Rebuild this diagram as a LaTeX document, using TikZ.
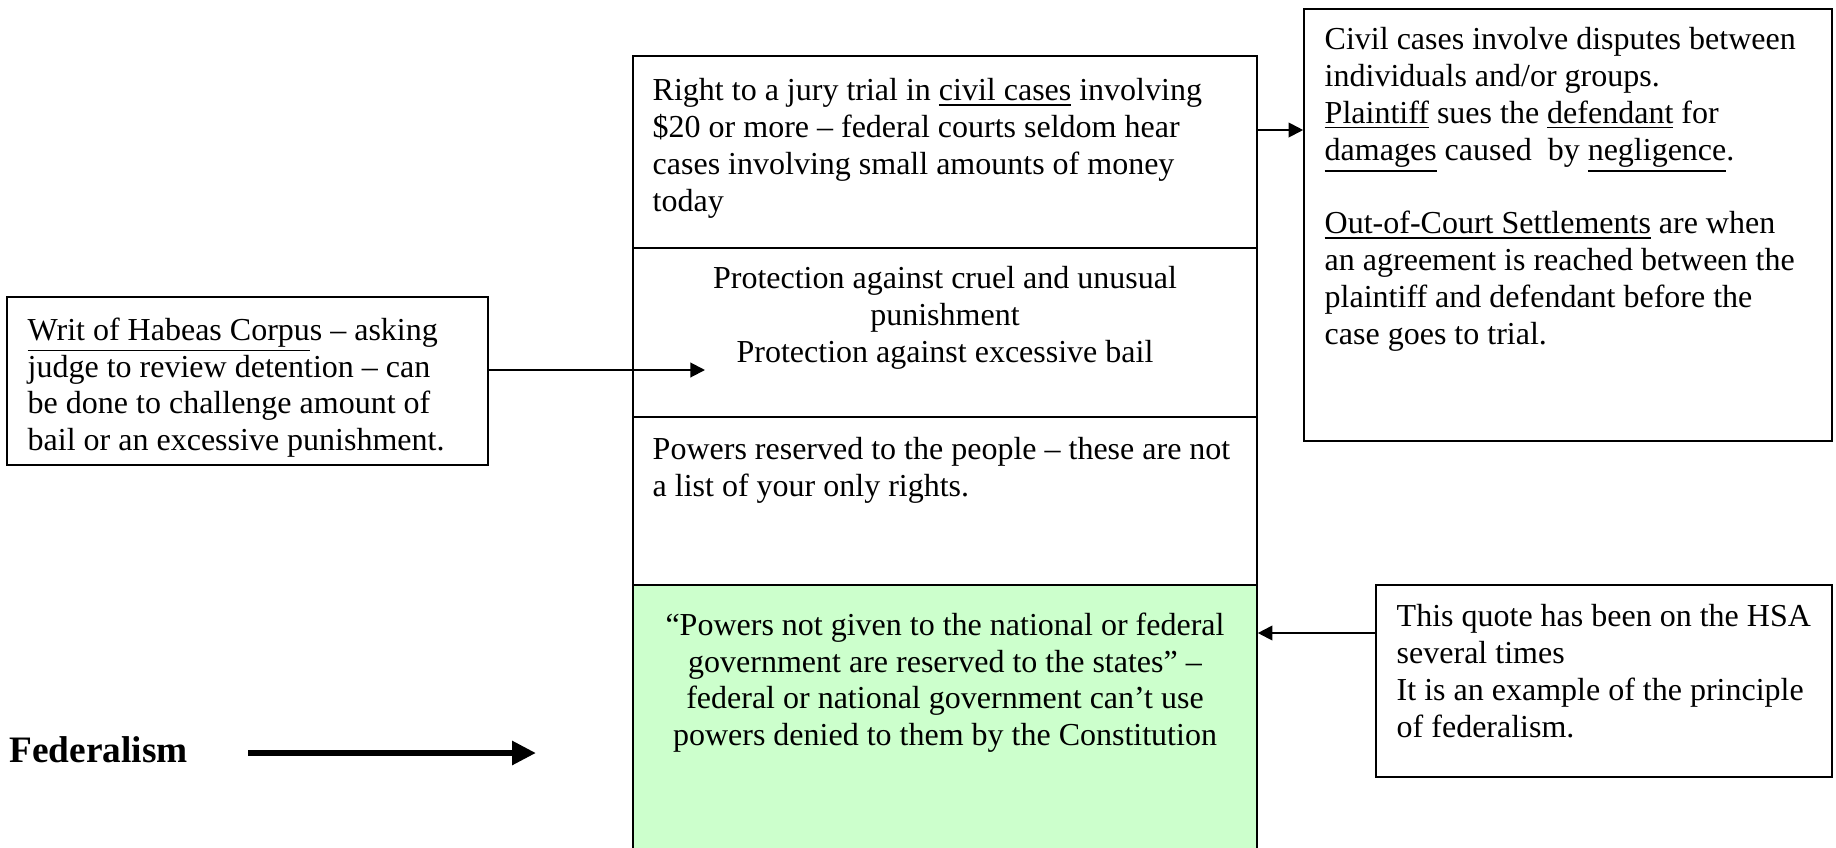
\documentclass[tikz,border=0pt]{standalone}
\usepackage{fontspec}
\setmainfont{Liberation Serif}
\usepackage{tikz}
\usetikzlibrary{positioning, arrows.meta, fit, calc}
\definecolor{cInk}   {HTML}{000000}
\definecolor{cStates}{HTML}{CCFFCC}

\begin{document}
\begin{tikzpicture}[x=0.375pt, y=-0.375pt,
    panel/.style={draw=cInk, line width=0.6pt, inner sep=0pt},
    note/.style={font=\fontsize{12}{13.8}\selectfont, inner sep=0pt, anchor=north west, align=left},
    link/.style={draw=cInk, line width=0.75pt, -{Triangle[length=5.5pt, width=5.5pt]}}]
  \useasboundingbox (0,0) rectangle (1836,847);
  \clip (0,0) rectangle (1836,847);
  % central column, one panel per amendment
  \node[panel, fit={(633,56) (1257,248)}] (jury) {};
  \node[panel, fit={(633,248) (1257,417)}] (cruel) {};
  \node[panel, fit={(633,417) (1257,585)}] (people) {};
  \node[panel, fill=cStates, fit={(633,585) (1257,880)}] (states) {};
  \node[note] (jurytext) at ([shift={(20,23)}]jury.north west)
    {Right to a jury trial in \underline{civil cases} involving\\
     \$20 or more -- federal courts seldom hear\\
     cases involving small amounts of money\\
     today};
  \node[note, anchor=north, align=center] (crueltext) at ([shift={(0,19)}]cruel.north)
    {Protection against cruel and unusual\\
     punishment\\
     Protection against excessive bail};
  \node[note] (peopletext) at ([shift={(20,21)}]people.north west)
    {Powers reserved to the people -- these are not\\
     a list of your only rights.};
  \node[note, anchor=north, align=center] (statestext) at ([shift={(0,28)}]states.north)
    {“Powers not given to the national or federal\\
     government are reserved to the states” --\\
     federal or national government can’t use\\
     powers denied to them by the Constitution};
  % side notes
  \node[panel, fit={(1304,9) (1832,441)}] (civil) {};
  \node[note] (civiltext) at ([shift={(21,19)}]civil.north west)
    {Civil cases involve disputes between\\
     individuals and/or groups.\\
     \underline{Plaintiff} sues the \underline{defendant} for\\
     \underline{damages} caused~ by \underline{negligence}.\\[13.8pt]
     \underline{Out-of-Court Settlements} are when\\
     an agreement is reached between the\\
     plaintiff and defendant before the\\
     case goes to trial.};
  \node[panel, fit={(7,297) (488,465)}] (writ) {};
  \node[note] (writtext) at ([shift={(21,21)}]writ.north west)
    {\underline{Writ of Habeas Corpu}s -- asking\\
     judge to review detention -- can\\
     be done to challenge amount of\\
     bail or an excessive punishment.};
  \node[panel, fit={(1376,585) (1832,777)}] (hsa) {};
  \node[note] (hsatext) at ([shift={(21,20)}]hsa.north west)
    {This quote has been on the HSA\\
     several times\\
     It is an example of the principle\\
     of federalism.};
  \node[font=\fontsize{14}{16}\selectfont\bfseries, inner sep=0pt, anchor=base west] (fed) at (9,762) {Federalism};
  % connectors
  \coordinate (civilrow) at (0,130);
  \coordinate (bailtip) at (705,370);
  \coordinate (hsarow) at (0,633);
  \coordinate (fedtail) at (248,753);
  \coordinate (fedtip) at (536,753);
  \draw[link] (jury.east |- civilrow) -- (civil.west |- civilrow);
  \draw[link] (writ.east |- bailtip) -- (bailtip);
  \draw[link] (hsa.west |- hsarow) -- (states.east |- hsarow);
  \draw[cInk, line width=2.6pt, -{Triangle[length=9pt, width=8.6pt]}] (fedtail) -- (fedtip);
\end{tikzpicture}
\end{document}
